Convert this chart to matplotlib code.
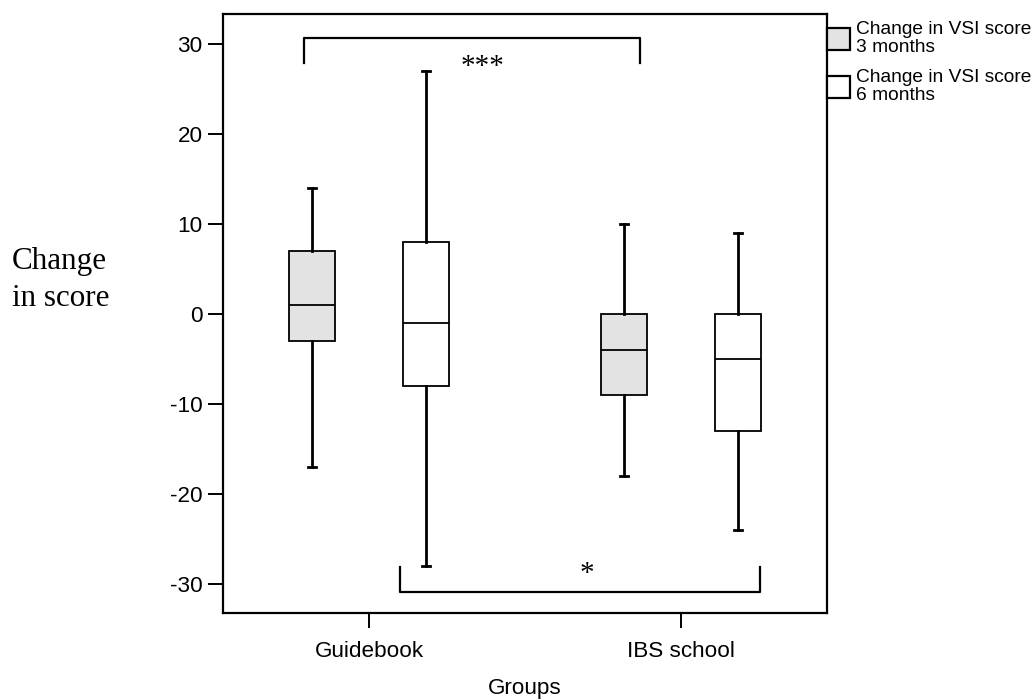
import matplotlib
matplotlib.use("Agg")
import matplotlib.pyplot as plt
from matplotlib.patches import Rectangle

groups = ['Guidebook', 'IBS school']
series = ['Change in VSI score\n3 months', 'Change in VSI score\n6 months']
colors = ['#e3e3e3', 'white']

# per box: whislo, q1, med, q3, whishi  (group, series)
whislo = [[-17, -28], [-18, -24]]
q1 = [[-3, -8], [-9, -13]]
med = [[1, -1], [-4, -5]]
q3 = [[7, 8], [0, 0]]
whishi = [[14, 27], [10, 9]]

yticks = [-30, -20, -10, 0, 10, 20, 30]

plt.rcParams['font.family'] = ['Liberation Sans', 'DejaVu Sans']

W, H = 1036, 700
fig = plt.figure(figsize=(W / 100, H / 100), dpi=100)
ax = fig.add_axes([223 / W, 1 - 613 / H, 604 / W, 599 / H])

offset = 0.183
width = 0.147
for g in range(len(groups)):
    for s in range(len(series)):
        stats = [dict(whislo=whislo[g][s], q1=q1[g][s], med=med[g][s],
                      q3=q3[g][s], whishi=whishi[g][s], fliers=[])]
        pos = g + 1 + (s * 2 - 1) * offset
        ax.bxp(stats, positions=[pos], widths=width, patch_artist=True,
               showfliers=False,
               boxprops=dict(facecolor=colors[s], edgecolor='black', linewidth=1.3),
               medianprops=dict(color='black', linewidth=1.3),
               whiskerprops=dict(color='black', linewidth=2),
               capprops=dict(color='black', linewidth=2),
               capwidths=0.028)

# significance brackets
ax.plot([0.792, 0.792, 1.869, 1.869], [27.9, 30.6, 30.6, 27.9], color='black', lw=1.6)
ax.text(1.364, 27.7, '***', ha='center', va='center_baseline', fontsize=21,
        family='Liberation Serif')
ax.plot([1.099, 1.099, 2.253, 2.253], [-28.1, -30.9, -30.9, -28.1], color='black', lw=1.6)
ax.text(1.699, -28.5, '*', ha='center', va='center_baseline', fontsize=21,
        family='Liberation Serif')

ax.set_xlim(0.532, 2.468)
ax.set_ylim(-33.2, 33.3)
ax.set_xticks([1, 2])
ax.set_xticklabels(groups, fontsize=16.2)
ax.set_yticks(yticks)
ax.set_yticklabels([str(v) for v in yticks], fontsize=16.2)
ax.tick_params(length=11, width=1.4, direction='out')
ax.tick_params(axis='y', pad=3.6)
ax.tick_params(axis='x', pad=9)
for sp in ax.spines.values():
    sp.set_linewidth(1.6)

ax.set_xlabel('Groups', fontsize=16.2, labelpad=12)
fig.text(12 / W, 1 - 269 / H, 'Change', fontsize=22.4, family='Liberation Serif',
         ha='left', va='baseline')
fig.text(12 / W, 1 - 306 / H, 'in score', fontsize=22.4, family='Liberation Serif',
         ha='left', va='baseline')

# legend, drawn by hand
legend_y = [39, 87]
for s in range(len(series)):
    yc = legend_y[s]
    fig.add_artist(Rectangle((827 / W, 1 - (yc + 10.5) / H), 23 / W, 21 / H,
                             facecolor=colors[s], edgecolor='black', lw=1.6,
                             transform=fig.transFigure))
    fig.text(856 / W, 1 - (yc - 0.5) / H, series[s], fontsize=13.8, ha='left',
             va='center', linespacing=1.0)

fig.savefig('out.png', dpi=100)
